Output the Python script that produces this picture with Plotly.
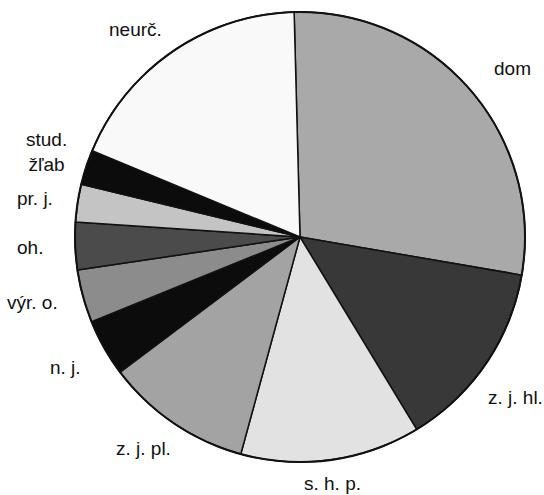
import plotly.graph_objects as go

# Data (share of finds, %)
categories = ["dom", "z. j. hl.", "s. h. p.", "z. j. pl.", "n. j.", "výr. o.",
              "oh.", "pr. j.", "stud.<br>žľab", "neurč."]
values = [28.1, 13.6, 12.9, 10.5, 4.1, 3.8, 3.4, 2.7, 2.5, 18.3]
colors = ["#a9a9a9", "#383838", "#e2e2e2", "#a3a3a3", "#0c0c0c", "#8c8c8c",
          "#4b4b4b", "#c4c4c4", "#0c0c0c", "#f9f9f9"]

W, H = 544, 495
CX, CY, R = 300, 237, 225

# label positions (pixels) for each category
label_pos = [(512, 68), (515, 397), (332, 483), (143, 448), (65, 367),
             (32, 302), (30, 247), (35, 198), (46, 152), (135, 29)]

fig = go.Figure(go.Pie(
    labels=categories,
    values=values,
    sort=False,
    direction="clockwise",
    rotation=-1.5,
    marker=dict(colors=colors, line=dict(color="#111111", width=1.5)),
    textinfo="none",
    hoverinfo="label+percent",
    domain=dict(x=[(CX - R) / W, (CX + R) / W],
                y=[(H - CY - R) / H, (H - CY + R) / H]),
    showlegend=False,
))

# outer border circle
fig.add_shape(type="circle", xref="paper", yref="paper",
              x0=(CX - R) / W, x1=(CX + R) / W,
              y0=(H - CY - R) / H, y1=(H - CY + R) / H,
              line=dict(color="#111111", width=2))

for lab, (px, py) in zip(categories, label_pos):
    fig.add_annotation(text=lab, x=px / W, y=1 - py / H, xref="paper", yref="paper",
                       showarrow=False, xanchor="center", yanchor="middle",
                       font=dict(family="Liberation Sans, Arial, sans-serif",
                                 size=19, color="#111111"))

fig.update_layout(width=W, height=H, margin=dict(l=0, r=0, t=0, b=0),
                  paper_bgcolor="white", plot_bgcolor="white")

fig.write_html("out.html", config={"displayModeBar": False},
               post_script="document.body.style.margin='0';document.body.style.overflow='hidden';")
